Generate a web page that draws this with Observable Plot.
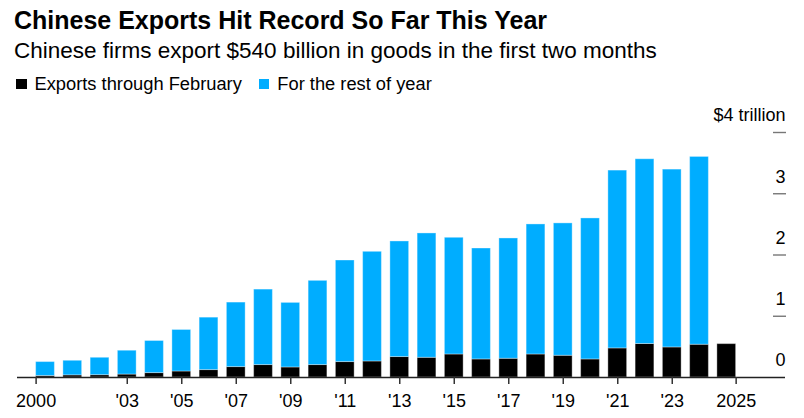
<!DOCTYPE html>
<html>
<head>
<meta charset="utf-8">
<script src="https://cdn.jsdelivr.net/npm/d3@7"></script>
<script src="https://cdn.jsdelivr.net/npm/@observablehq/plot@0.6"></script>
<style>
  html, body { margin: 0; padding: 0; background: #fff; }
  body { width: 804px; height: 418px; position: relative; overflow: hidden; font-family: "Liberation Sans", Arial, sans-serif; color: #000; }
  .t { position: absolute; white-space: nowrap; line-height: 1; }
  #title { left: 14px; top: 8px; font-size: 25px; font-weight: bold; }
  #subtitle { left: 14px; top: 40px; font-size: 22.5px; }
  #legend { left: 16px; top: 75px; font-size: 18.3px; display: flex; align-items: center; }
  .sw { display: inline-block; width: 10.5px; height: 10.5px; margin-right: 8px; }
  .item { display: flex; align-items: center; margin-right: 17px; }
  #chart { position: absolute; left: 0; top: 100px; }
</style>
</head>
<body>
<div id="title" class="t">Chinese Exports Hit Record So Far This Year</div>
<div id="subtitle" class="t">Chinese firms export $540 billion in goods in the first two months</div>
<div id="legend" class="t"></div>
<div id="chart"></div>
<script>
const years = [2000, 2001, 2002, 2003, 2004, 2005, 2006, 2007, 2008, 2009, 2010, 2011, 2012,
               2013, 2014, 2015, 2016, 2017, 2018, 2019, 2020, 2021, 2022, 2023, 2024, 2025];
// Trillions of US dollars
const febExports = [0.025, 0.035, 0.038, 0.048, 0.072, 0.098, 0.121, 0.170, 0.203, 0.164, 0.203, 0.252, 0.262,
                    0.334, 0.322, 0.376, 0.295, 0.306, 0.376, 0.355, 0.295, 0.475, 0.547, 0.491, 0.535, 0.545];
const restOfYear = [0.227, 0.238, 0.284, 0.389, 0.524, 0.678, 0.856, 1.053, 1.232, 1.054, 1.375, 1.658, 1.790,
                    1.887, 2.030, 1.905, 1.811, 1.964, 2.123, 2.161, 2.302, 2.903, 3.016, 2.903, 3.066, null];
const seriesNames = ["Exports through February", "For the rest of year"];
const seriesColors = ["#000000", "#00adff"];
const xTickYears = [2000, 2003, 2005, 2007, 2009, 2011, 2013, 2015, 2017, 2019, 2021, 2023, 2025];
const xTickLabels = ["2000", "'03", "'05", "'07", "'09", "'11", "'13", "'15", "'17", "'19", "'21", "'23", "2025"];
const yTicks = [0, 1, 2, 3, 4];
const yTickLabels = ["0", "1", "2", "3", "$4 trillion"];

// legend
const legend = document.getElementById("legend");
seriesNames.forEach((n, i) => {
  const it = document.createElement("span");
  it.className = "item";
  it.innerHTML = `<span class="sw" style="background:${seriesColors[i]}"></span>${n}`;
  legend.appendChild(it);
});

const rows = [];
years.forEach((y, i) => {
  rows.push({year: y, series: seriesNames[0], y1: 0, y2: febExports[i]});
  if (restOfYear[i] != null) rows.push({year: y, series: seriesNames[1], y1: febExports[i], y2: febExports[i] + restOfYear[i]});
});

const barHalf = 0.345; // half bar width in years
const first = xTickYears[0], last = xTickYears[xTickYears.length - 1];
const tickPos = xTickYears.map(y => y === first ? y - barHalf : y === last ? y + barHalf : y);
const tickLabelAt = new Map(tickPos.map((p, i) => [p, xTickLabels[i]]));

const chart = Plot.plot({
  width: 804,
  height: 318,
  marginLeft: 17,
  marginRight: 19,
  marginTop: 32,
  marginBottom: 41,
  style: {fontFamily: '"Liberation Sans", Arial, sans-serif', background: "#fff", color: "#000"},
  x: {type: "linear", domain: [1998.972, 2027.156]},
  y: {domain: [0, 4]},
  color: {domain: seriesNames, range: seriesColors},
  marks: [
    Plot.rect(rows, {
      x1: d => d.year - 0.5, x2: d => d.year + 0.5, y1: "y1", y2: "y2",
      fill: "series", insetLeft: 4.25, insetRight: 4.25,
      stroke: "#fff", strokeOpacity: 0.35, strokeWidth: 1
    }),
    Plot.ruleY([0], {stroke: "#222", strokeWidth: 1.5}),
    Plot.axisX({
      ticks: tickPos, tickFormat: d => tickLabelAt.get(d), tickSize: 7, tickPadding: 10,
      fontSize: 18, stroke: "#333", strokeWidth: 1.5, label: null, fill: "#000"
    }),
    Plot.axisY({
      anchor: "right", ticks: yTicks.slice(1), tickSize: 13, dx: -13,
      tickFormat: () => "", stroke: "#777", strokeWidth: 1.4, label: null
    }),
    Plot.text(yTicks, {
      y: d => d, text: (d, i) => yTickLabels[i], frameAnchor: "right", textAnchor: "end",
      dy: -17, fontSize: 18, fill: "#000"
    })
  ]
});
document.getElementById("chart").appendChild(chart);
</script>
</body>
</html>
